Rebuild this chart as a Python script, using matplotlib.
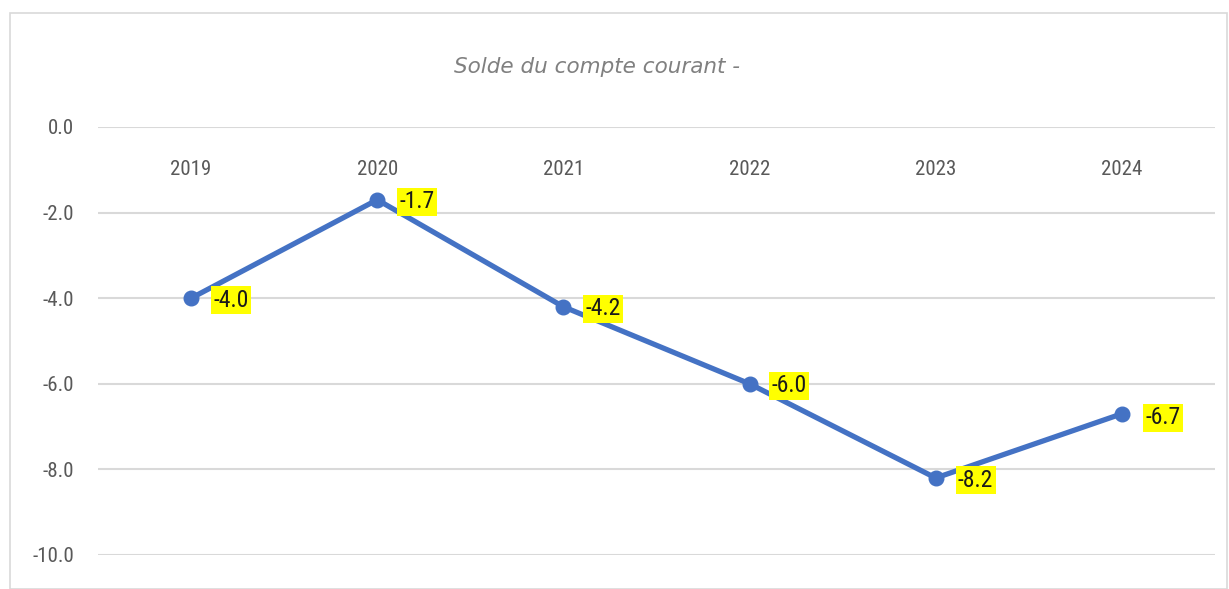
import os
import matplotlib
matplotlib.use("Agg")
import matplotlib.pyplot as plt
from matplotlib.patches import Rectangle
from matplotlib import font_manager

years = ["2019", "2020", "2021", "2022", "2023", "2024"]
values = [-4.0, -1.7, -4.2, -6.0, -8.2, -6.7]
yticks = [0.0, -2.0, -4.0, -6.0, -8.0, -10.0]
title = "Solde du compte courant -"

files = [f.fname for f in font_manager.fontManager.ttflist]
def pick(keys):
    for k in keys:
        for fn in files:
            b = os.path.basename(fn).lower()
            if k in b:
                return fn
    return None
reg_file = pick(["liberationsansnarrow-regular", "robotocondensed-regular", "opensans_condensed-regular",
                 "opensanscondensed-regular", "dejavusanscondensed.ttf"])

def fp(fn, size):
    if fn:
        return font_manager.FontProperties(fname=fn, size=size)
    return font_manager.FontProperties(family="DejaVu Sans", size=size)

W, H = 1229, 589
fig = plt.figure(figsize=(W / 100, H / 100), dpi=100)

fig.patches.append(Rectangle((10 / W, 0), 1 - 12 / W, 1 - 13 / H, transform=fig.transFigure,
                             fill=False, edgecolor="#d9d9d9", linewidth=1.2))

ax = fig.add_axes([98 / W, 1 - 555 / H, (1215 - 98) / W, (555 - 127) / H])
x = list(range(len(years)))
ax.set_xlim(-0.5, len(years) - 0.5)
ax.set_ylim(-10, 0)
for s in ax.spines.values():
    s.set_visible(False)
ax.set_xticks([])
ax.set_yticks(yticks)
ax.set_yticklabels([f"{v:.1f}" for v in yticks], color="#595959")
for t in ax.get_yticklabels():
    t.set_fontproperties(fp(reg_file, 15))
ax.tick_params(axis="y", length=0, pad=17)
ax.grid(axis="y", color="#d9d9d9", linewidth=1.5)
ax.set_axisbelow(True)

for xi, yr in zip(x, years):
    ax.text(xi, -1.0, yr, ha="center", va="center", fontproperties=fp(reg_file, 15), color="#595959")

ax.plot(x, values, color="#4472C4", linewidth=3.8, marker="o", markersize=10.5, clip_on=False, zorder=3)

for xi, v in zip(x, values):
    dx = 17 if xi == len(years) - 1 else 16
    dy = -3 if xi == len(years) - 1 else -1.5
    ax.annotate(f"{v:.1f}", (xi, v), xytext=(dx, dy), textcoords="offset points", ha="left", va="center",
                fontproperties=fp(reg_file, 17), color="#1a1a1a",
                bbox=dict(boxstyle="square,pad=0.1", facecolor="#FFFF00", edgecolor="none"), zorder=4)

fig.text(597 / W, 1 - 67 / H, title, ha="center", va="center", fontsize=15.5, style="italic",
         family="DejaVu Sans", color="#808080")

fig.savefig("out.png", dpi=100)
